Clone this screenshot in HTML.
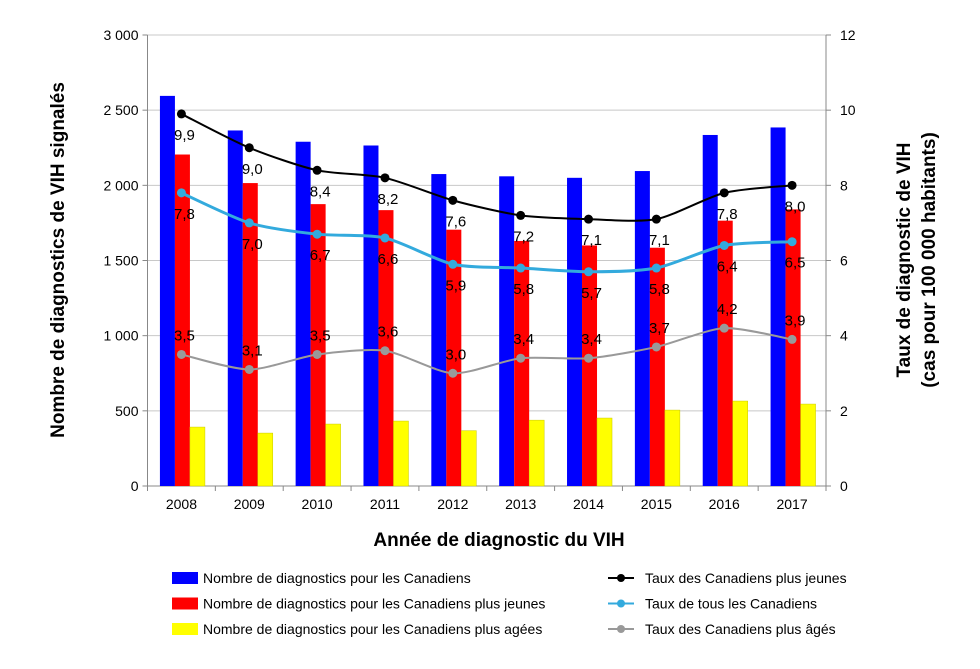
<!DOCTYPE html>
<html><head><meta charset="utf-8"><style>
body{margin:0;background:#fff;width:980px;height:664px;overflow:hidden;font-family:"Liberation Sans",sans-serif}
</style></head><body>
<svg id="c" width="980" height="664" xmlns="http://www.w3.org/2000/svg" font-family="Liberation Sans, sans-serif"></svg>
<script>
const categories=["2008","2009","2010","2011","2012","2013","2014","2015","2016","2017"];
const allCounts=[2595,2365,2290,2265,2075,2060,2050,2095,2335,2385];
const youngCounts=[2205,2015,1875,1835,1705,1630,1600,1585,1765,1840];
const olderCounts=[392,352,412,432,368,438,452,505,565,545];
const youngRate=[9.9,9.0,8.4,8.2,7.6,7.2,7.1,7.1,7.8,8.0];
const allRate=[7.8,7.0,6.7,6.6,5.9,5.8,5.7,5.8,6.4,6.5];
const olderRate=[3.5,3.1,3.5,3.6,3.0,3.4,3.4,3.7,4.2,3.9];
const leftTicks=[0,500,1000,1500,2000,2500,3000];
const leftTickLabels=["0","500","1 000","1 500","2 000","2 500","3 000"];
const rightTicks=[0,2,4,6,8,10,12];

const svg=document.getElementById('c');
const NS='http://www.w3.org/2000/svg';
const X0=147.5,X1=826,Y0=486,Y1=35;
const slot=(X1-X0)/categories.length;
const xc=i=>X0+slot*(i+0.5);
const yl=v=>Y0-(v/3000)*(Y0-Y1);
const yr=v=>Y0-(v/12)*(Y0-Y1);
function el(t,a,txt){const e=document.createElementNS(NS,t);for(const k in a)e.setAttribute(k,a[k]);if(txt!==undefined)e.textContent=txt;svg.appendChild(e);return e;}

leftTicks.forEach((v,i)=>{
  const g=el('line',{x1:X0,x2:X1,y1:yl(v),y2:yl(v),stroke:i==0?'#888':'#c8c8c8','stroke-width':1});
  
  
  el('line',{x1:X0-5,x2:X0,y1:yl(v),y2:yl(v),stroke:'#888'});
  const t=el('text',{x:X0-9,y:yl(v)+5,'text-anchor':'end','font-size':14,fill:'#000'},leftTickLabels[i]);
  
  
});
rightTicks.forEach(v=>{
  el('line',{x1:X1,x2:X1+5,y1:yr(v),y2:yr(v),stroke:'#888'});
  const t=el('text',{x:X1+14,y:yr(v)+5,'font-size':14,fill:'#000'},String(v));
  
  
});
el('line',{x1:X0,x2:X0,y1:Y1,y2:Y0,stroke:'#888'});
el('line',{x1:X1,x2:X1,y1:Y1,y2:Y0,stroke:'#888'});

categories.forEach((c,i)=>{
  const cx=xc(i),bw=15,s=cx-21.5;
  [[allCounts,'#0000ff','bar-all'],[youngCounts,'#ff0000','bar-young'],[olderCounts,'#ffff00','bar-older']].forEach((d,k)=>{
    const b=el('rect',{x:s+k*bw,y:yl(d[0][i]),width:bw,height:Y0-yl(d[0][i]),fill:d[1],stroke:k==2?'#c8c800':'none','stroke-width':0.5});
    
    
  });
  el('line',{x1:X0+slot*i,x2:X0+slot*i,y1:Y0,y2:Y0+5,stroke:'#888'});
  const t=el('text',{x:cx,y:509,'text-anchor':'middle','font-size':14},c);
  
  
});
el('line',{x1:X1,x2:X1,y1:Y0,y2:Y0+5,stroke:'#888'});

function smooth(pts){let d='M'+pts[0][0]+','+pts[0][1];
  for(let i=0;i<pts.length-1;i++){const p0=pts[Math.max(0,i-1)],p1=pts[i],p2=pts[i+1],p3=pts[Math.min(pts.length-1,i+2)];const t=8;
    d+=' C'+(p1[0]+(p2[0]-p0[0])/t)+','+(p1[1]+(p2[1]-p0[1])/t)+' '+(p2[0]-(p3[0]-p1[0])/t)+','+(p2[1]-(p3[1]-p1[1])/t)+' '+p2[0]+','+p2[1];}
  return d;}
[[olderRate,'#999999',2,-14,'older-rate'],[youngRate,'#000000',2,26,'young-rate'],[allRate,'#33aadd',3,26,'all-rate']].forEach(s=>{
  const pts=s[0].map((v,i)=>[xc(i),yr(v)]);
  const p=el('path',{d:smooth(pts),fill:'none',stroke:s[1],'stroke-width':s[2]});
  
  
  pts.forEach((q,i)=>{
    const m=el('circle',{cx:q[0],cy:q[1],r:4.5,fill:s[1]});
    
    
    const t=el('text',{x:q[0]+3,y:q[1]+s[3],'text-anchor':'middle','font-size':15},s[0][i].toFixed(1).replace('.',','));
    
    
  });
});

let t=el('text',{x:0,y:0,transform:'translate(64,260) rotate(-90)','text-anchor':'middle','font-size':19,'font-weight':'bold'},'Nombre de diagnostics de VIH signalés');

t=el('text',{x:0,y:0,transform:'translate(910,260) rotate(-90)','text-anchor':'middle','font-size':19,'font-weight':'bold'},'Taux de diagnostic de VIH');

t=el('text',{x:0,y:0,transform:'translate(935,260) rotate(-90)','text-anchor':'middle','font-size':19,'font-weight':'bold'},'(cas pour 100 000 habitants)');

t=el('text',{x:499,y:546,'text-anchor':'middle','font-size':19,'font-weight':'bold'},'Année de diagnostic du VIH');


const legL=[['#0000ff','Nombre de diagnostics pour les Canadiens'],['#ff0000','Nombre de diagnostics pour les Canadiens plus jeunes'],['#ffff00','Nombre de diagnostics pour les Canadiens plus agées']];
legL.forEach((l,i)=>{const y=578+i*25.5;
  const r=el('rect',{x:172,y:y-6,width:26,height:12,fill:l[0]});
  
  const tx=el('text',{x:203,y:y+5,'font-size':14},l[1]);
  
});
const legR=[['#000000','Taux des Canadiens plus jeunes'],['#33aadd','Taux de tous les Canadiens'],['#999999','Taux des Canadiens plus âgés']];
legR.forEach((l,i)=>{const y=578+i*25.5;
  el('line',{x1:608,x2:634,y1:y,y2:y,stroke:l[0],'stroke-width':2});
  const c=el('circle',{cx:621,cy:y,r:4,fill:l[0]});
  
  const tx=el('text',{x:645,y:y+5,'font-size':14},l[1]);
  
});
</script>
</body></html>
